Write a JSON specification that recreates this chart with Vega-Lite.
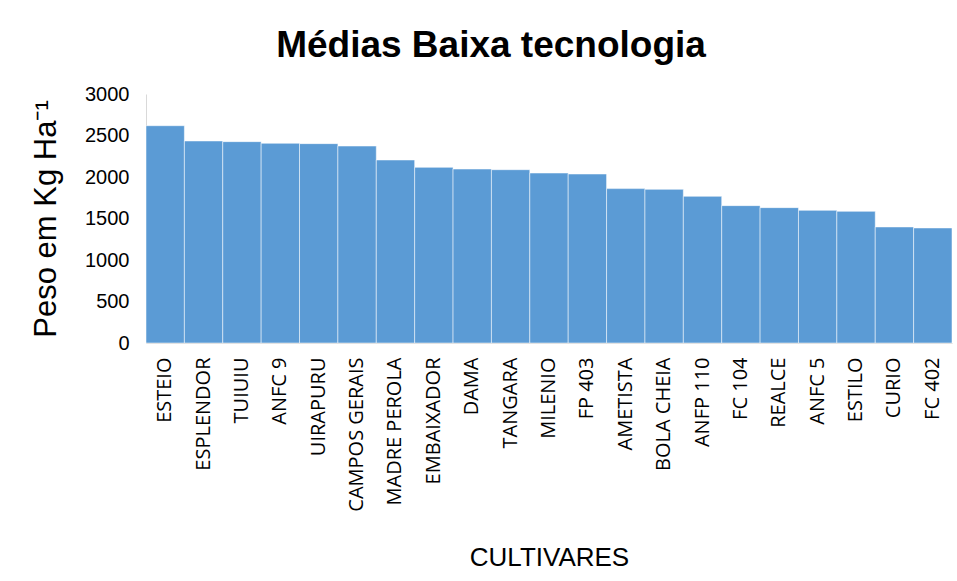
{
  "$schema": "https://vega.github.io/schema/vega-lite/v6.json",
  "width": 806,
  "height": 249,
  "autosize": {"type": "none"},
  "padding": {"left": 146, "top": 94, "right": 5, "bottom": 238},
  "background": "white",
  "title": {
    "text": "Médias Baixa tecnologia",
    "font": "Liberation Sans",
    "fontSize": 37,
    "fontWeight": "bold",
    "color": "#000000",
    "anchor": "middle",
    "dx": -58,
    "offset": 19
  },
  "data": {
    "values": [
      {"cultivar": "ESTEIO", "peso": 2618},
      {"cultivar": "ESPLENDOR", "peso": 2434},
      {"cultivar": "TUIUIU", "peso": 2426},
      {"cultivar": "ANFC 9", "peso": 2406},
      {"cultivar": "UIRAPURU", "peso": 2402},
      {"cultivar": "CAMPOS GERAIS", "peso": 2373},
      {"cultivar": "MADRE PEROLA", "peso": 2205},
      {"cultivar": "EMBAIXADOR", "peso": 2116},
      {"cultivar": "DAMA", "peso": 2096},
      {"cultivar": "TANGARA", "peso": 2088},
      {"cultivar": "MILENIO", "peso": 2048},
      {"cultivar": "FP 403", "peso": 2036},
      {"cultivar": "AMETISTA", "peso": 1860},
      {"cultivar": "BOLA CHEIA", "peso": 1851},
      {"cultivar": "ANFP 110", "peso": 1767},
      {"cultivar": "FC 104", "peso": 1655},
      {"cultivar": "REALCE", "peso": 1631},
      {"cultivar": "ANFC 5", "peso": 1598},
      {"cultivar": "ESTILO", "peso": 1586},
      {"cultivar": "CURIO", "peso": 1398},
      {"cultivar": "FC  402", "peso": 1386}
    ]
  },
  "mark": {"type": "bar", "color": "#5B9BD5", "stroke": "#FFFFFF", "strokeWidth": 1, "strokeOpacity": 0.5},
  "encoding": {
    "x": {
      "field": "cultivar",
      "type": "nominal",
      "sort": null,
      "scale": {"paddingInner": 0, "paddingOuter": 0},
      "axis": {
        "title": "CULTIVARES",
        "titleFont": "Liberation Sans",
        "titleFontSize": 26,
        "titleFontWeight": "normal",
        "titleColor": "#000000",
        "titlePadding": 33,
        "labelAngle": -90,
        "labelFont": "Open Sans",
        "labelFontSize": 20,
        "labelColor": "#000000",
        "labelPadding": 14,
        "labelLimit": 300,
        "ticks": false,
        "domainColor": "#D9D9D9",
        "domainWidth": 1,
        "grid": false
      }
    },
    "y": {
      "field": "peso",
      "type": "quantitative",
      "scale": {"domain": [0, 3000], "nice": false},
      "axis": {
        "title": "Peso em Kg Ha⁻¹",
        "titleFont": "Liberation Sans",
        "titleFontSize": 31,
        "titleFontWeight": "normal",
        "titleColor": "#000000",
        "titlePadding": 22,
        "values": [0, 500, 1000, 1500, 2000, 2500, 3000],
        "format": "d",
        "labelFont": "Liberation Sans",
        "labelFontSize": 20,
        "labelColor": "#000000",
        "labelPadding": 17,
        "ticks": false,
        "domainColor": "#D9D9D9",
        "grid": false
      }
    }
  },
  "config": {"view": {"stroke": null}}
}
